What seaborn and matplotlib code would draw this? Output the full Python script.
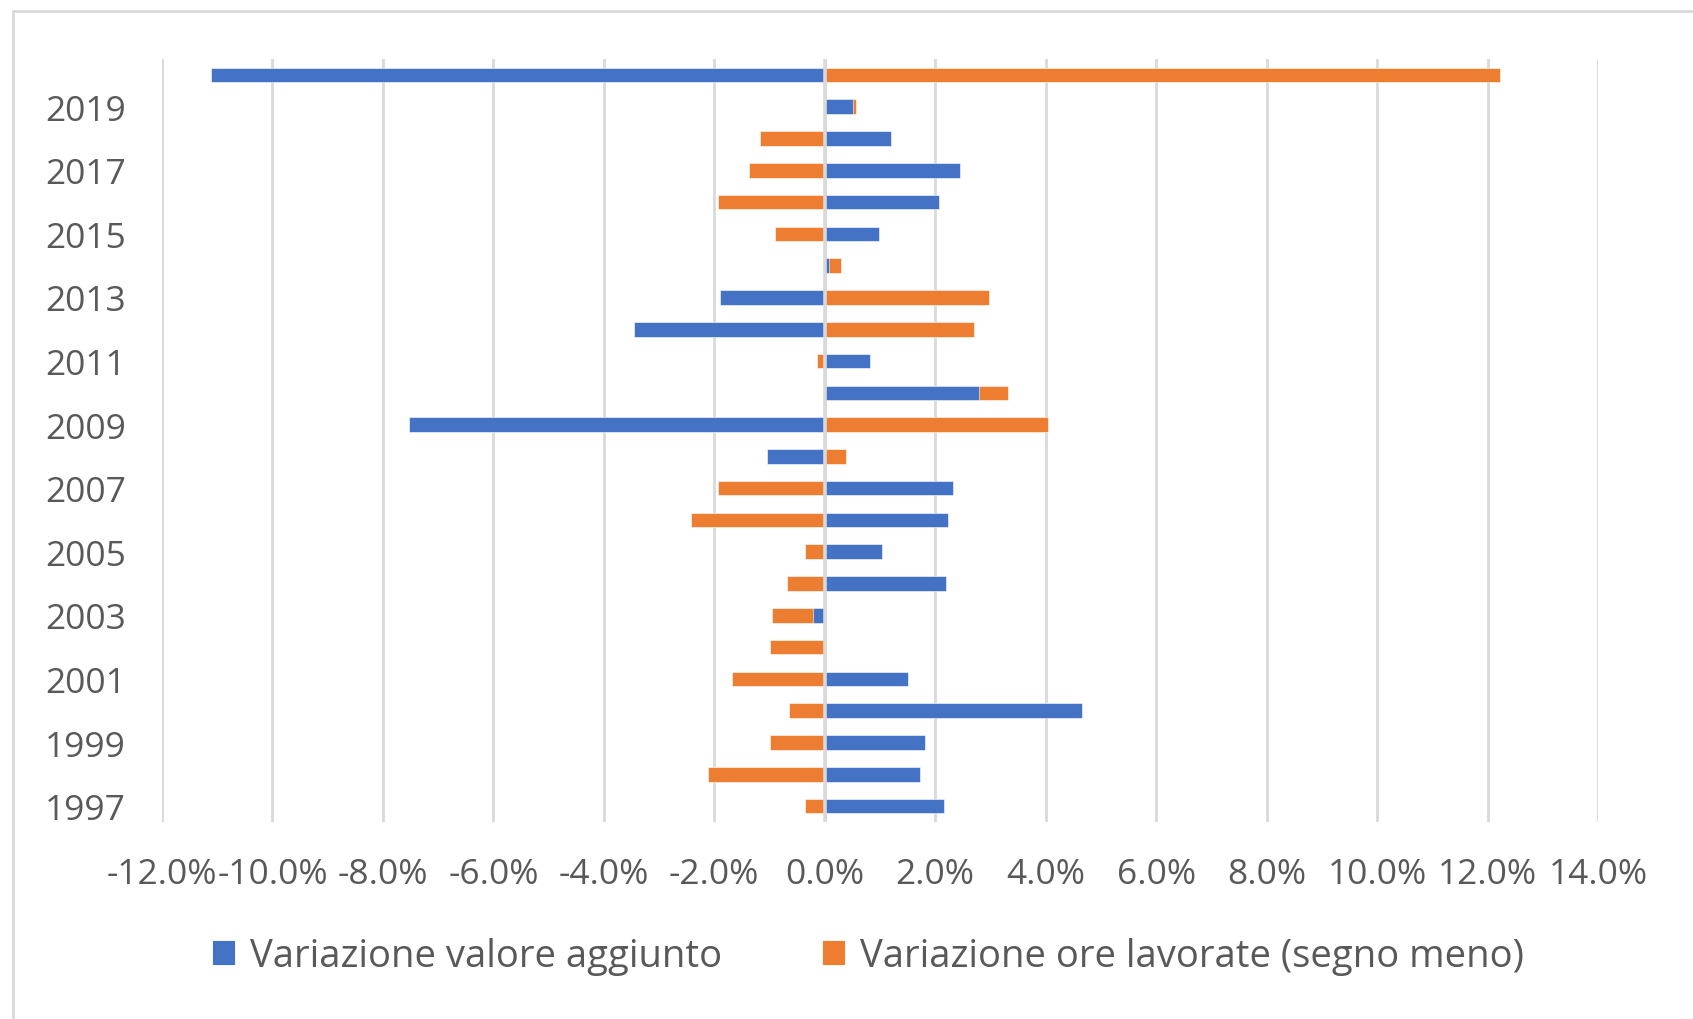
import numpy as np
import pandas as pd
import matplotlib
matplotlib.use("Agg")
import matplotlib.pyplot as plt
import seaborn as sns
from matplotlib.patches import Patch
from matplotlib.lines import Line2D

# dati (valori in %)
anni = list(range(1997, 2021))
valore_aggiunto = [2.15, 1.72, 1.81, 4.65, 1.50, 0.0, -0.22, 2.20, 1.03, 2.24,
                   2.32, -1.04, -7.53, 2.80, 0.82, -3.45, -1.90, 0.08, 0.98, 2.07,
                   2.45, 1.20, 0.51, -11.11]
ore_lavorate = [-0.35, -2.11, -1.00, -0.65, -1.68, -1.00, -0.73, -0.69, -0.35, -2.42,
                -1.94, 0.38, 4.05, 0.52, -0.14, 2.71, 2.97, 0.22, -0.91, -1.94,
                -1.38, -1.17, 0.05, 12.22]
x_ticks = list(range(-12, 16, 2))

BLU = "#4472C4"
ARANCIO = "#ED7D31"
GRIGIO = "#D9D9D9"
TESTO = "#595959"

sns.set_style("white")
plt.rcParams["font.family"] = ["Open Sans", "DejaVu Sans"]

df = pd.DataFrame({"anno": [str(a) for a in anni],
                   "va": valore_aggiunto,
                   "ore": ore_lavorate})
# barre in pila come in Excel: stesso segno -> l'arancio parte dalla fine del blu
stesso_segno = np.sign(df["va"]) == np.sign(df["ore"])
df["ore_fine"] = np.where(stesso_segno, df["va"] + df["ore"], df["ore"])

ordine = [str(a) for a in anni[::-1]]

fig = plt.figure(figsize=(16.93, 10.20), dpi=100)
ax = fig.add_axes([162 / 1693, 1 - 823 / 1020, (1598 - 162) / 1693, (823 - 60) / 1020])

sns.barplot(data=df, x="ore_fine", y="anno", order=ordine, orient="h",
            color=ARANCIO, saturation=1, width=0.46, edgecolor="white",
            linewidth=0.4, ax=ax, zorder=3)
sns.barplot(data=df, x="va", y="anno", order=ordine, orient="h",
            color=BLU, saturation=1, width=0.46, edgecolor="white",
            linewidth=0.4, ax=ax, zorder=4)

ax.axvline(0, color=GRIGIO, lw=2.6, zorder=6)
ax.set_xlim(-12, 14)
ax.set_xticks(x_ticks)
ax.set_xticklabels([f"{v:.1f}%" for v in x_ticks])
ax.set_yticks(range(len(ordine)))
ax.set_yticklabels([a if int(a) % 2 == 1 else "" for a in ordine])
ax.grid(axis="x", color=GRIGIO, lw=2.0, zorder=0)
ax.set_axisbelow(True)
for s in ax.spines.values():
    s.set_visible(False)
ax.tick_params(axis="both", length=0, labelsize=25.5, labelcolor=TESTO)
ax.tick_params(axis="x", pad=25)
ax.tick_params(axis="y", pad=26)
ax.set_xlabel("")
ax.set_ylabel("")

handles = [Patch(facecolor=BLU, edgecolor="white", lw=0.6, label="Variazione valore aggiunto"),
           Patch(facecolor=ARANCIO, edgecolor="white", lw=0.6, label="Variazione ore lavorate (segno meno)")]
leg = fig.legend(handles=handles, loc="center", bbox_to_anchor=(868 / 1693, 1 - 957 / 1020),
                 ncol=2, frameon=False, fontsize=27.5, handlelength=0.6, handleheight=0.6,
                 handletextpad=0.4, columnspacing=2.6)
for t in leg.get_texts():
    t.set_color(TESTO)

# bordo dell'area del grafico (tagliato a destra e in basso)
fig.add_artist(Line2D([13 / 1693, 13 / 1693], [0, 1 - 12 / 1020], color=GRIGIO, lw=2))
fig.add_artist(Line2D([13 / 1693, 1], [1 - 12 / 1020, 1 - 12 / 1020], color=GRIGIO, lw=2))

fig.savefig("out.png", dpi=100)
